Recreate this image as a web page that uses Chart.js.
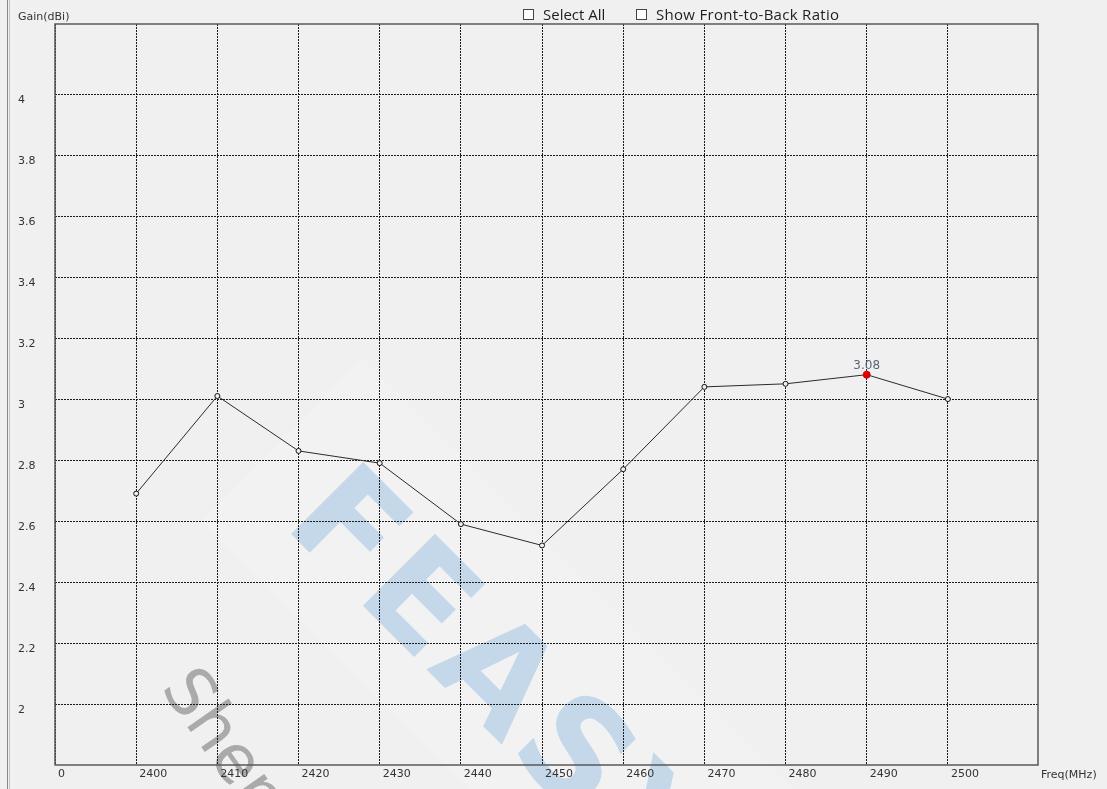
<!DOCTYPE html>
<html><head><meta charset="utf-8">
<script src="https://cdn.jsdelivr.net/npm/chart.js@4"></script>
<style>
html,body{margin:0;padding:0;background:#f0f0f0;}
#wrap{position:relative;width:1107px;height:789px;overflow:hidden;background:#f0f0f0;}
#frame{position:absolute;left:7px;top:0;width:1px;height:789px;border-left:1px solid #8a8a8a;border-right:1px solid #c4c4c4;}
canvas{position:absolute;left:0;top:0;}
.cb{position:absolute;top:5px;font:15px "Open Sans",sans-serif;color:#1e1e1e;display:flex;align-items:center;line-height:18px;}
.box{display:inline-block;width:9px;height:9px;border:1px solid #444;background:#fff;margin-right:9px;}
</style></head>
<body><div id="wrap">
<div id="frame"></div>
<canvas id="c"></canvas>
<div class="cb" style="left:523px"><span class="box"></span>Select All</div>
<div class="cb" style="left:636px;letter-spacing:0.3px"><span class="box"></span>Show Front-to-Back Ratio</div>
</div>
<script>
// ---- data ----
const freqs = [2400, 2410, 2420, 2430, 2440, 2450, 2460, 2470, 2480, 2490, 2500];
const gain = [2.69, 3.01, 2.83, 2.79, 2.59, 2.52, 2.77, 3.04, 3.05, 3.08, 3.00];
const xOrigin = 2390;
const xTickLabels = ['0', '2400', '2410', '2420', '2430', '2440', '2450', '2460', '2470', '2480', '2490', '2500'];
const yTicks = [2, 2.2, 2.4, 2.6, 2.8, 3, 3.2, 3.4, 3.6, 3.8, 4];
const yTitle = 'Gain(dBi)';
const xTitle = 'Freq(MHz)';
const watermarkMain = 'FEASY';
const watermarkSub = 'Shenzhen';

const peak = gain.indexOf(Math.max(...gain));
const FONT = 'DejaVu Sans';

const deco = {
  id: 'deco',
  beforeDraw(chart) {
    const ctx = chart.ctx;
    ctx.save();
    ctx.translate(282, 525);
    ctx.rotate(45 * Math.PI / 180);
    ctx.fillStyle = 'rgba(255,255,255,0.16)';
    ctx.fillRect(-60, -175, 740, 230);
    ctx.fillStyle = '#c4d8e9';
    ctx.font = 'bold 140px "DejaVu Sans"';
    ctx.letterSpacing = '6px';
    ctx.textBaseline = 'alphabetic';
    ctx.fillText(watermarkMain, 0, 0);
    ctx.restore();
    ctx.save();
    ctx.translate(160, 688);
    ctx.rotate(55 * Math.PI / 180);
    ctx.fillStyle = 'rgba(140,140,140,0.7)';
    ctx.font = '66px "DejaVu Sans"';
    ctx.fillText(watermarkSub, 0, 0);
    ctx.restore();
  },
  afterDatasetsDraw(chart) {
    const ctx = chart.ctx;
    const a = chart.chartArea;
    ctx.save();
    ctx.strokeStyle = '#585858';
    ctx.lineWidth = 1.5;
    ctx.strokeRect(a.left, a.top, a.right - a.left, a.bottom - a.top);
    const pt = chart.getDatasetMeta(0).data[peak];
    ctx.fillStyle = '#5a6676';
    ctx.font = '12px "' + FONT + '"';
    ctx.textAlign = 'center';
    ctx.textBaseline = 'middle';
    ctx.fillText(gain[peak].toFixed(2), pt.x, pt.y - 9);
    ctx.fillStyle = '#333';
    ctx.font = '11px "' + FONT + '"';
    ctx.textAlign = 'left';
    ctx.fillText(yTitle, 18, 17);
    ctx.fillText(xTitle, 1041, 775);
    ctx.restore();
  }
};

new Chart(document.getElementById('c'), {
  type: 'line',
  data: {
    datasets: [{
      data: freqs.map((f, i) => ({ x: f, y: gain[i] })),
      borderColor: '#2a2a2a',
      borderWidth: 1,
      tension: 0,
      pointRadius: c => c.dataIndex === peak ? 3.5 : 2.5,
      pointBorderWidth: 1,
      pointBorderColor: c => c.dataIndex === peak ? '#d40000' : '#111',
      pointBackgroundColor: c => c.dataIndex === peak ? '#e00000' : '#f0f0f0',
      clip: false
    }]
  },
  options: {
    responsive: true,
    maintainAspectRatio: false,
    animation: false,
    events: [],
    layout: { padding: { left: 18, top: 24, right: 69, bottom: 0 } },
    plugins: { legend: { display: false }, tooltip: { enabled: false } },
    scales: {
      x: {
        type: 'linear',
        min: xOrigin,
        max: 2511.1,
        afterBuildTicks: s => { s.ticks = [xOrigin, ...freqs].map(v => ({ value: v })); },
        afterFit: s => { s.height = 24; },
        grid: { drawTicks: false, color: '#1a1a1a', lineWidth: 1 },
        border: { display: false, dash: [2, 1] },
        ticks: {
          align: 'start', labelOffset: 3, padding: 3, maxRotation: 0, autoSkip: false,
          color: '#333', font: { family: FONT, size: 11 },
          callback: (v, i) => xTickLabels[i]
        }
      },
      y: {
        min: 1.8,
        max: 4.23,
        afterBuildTicks: s => { s.ticks = yTicks.map(v => ({ value: v })); },
        afterFit: s => { s.width = 37; },
        grid: { drawTicks: false, color: '#1a1a1a', lineWidth: 1 },
        border: { display: false, dash: [2, 1] },
        ticks: {
          crossAlign: 'far', labelOffset: 6, padding: 0, autoSkip: false,
          color: '#333', font: { family: FONT, size: 11 },
          callback: v => String(v)
        }
      }
    }
  },
  plugins: [deco]
});
</script>
</body></html>
